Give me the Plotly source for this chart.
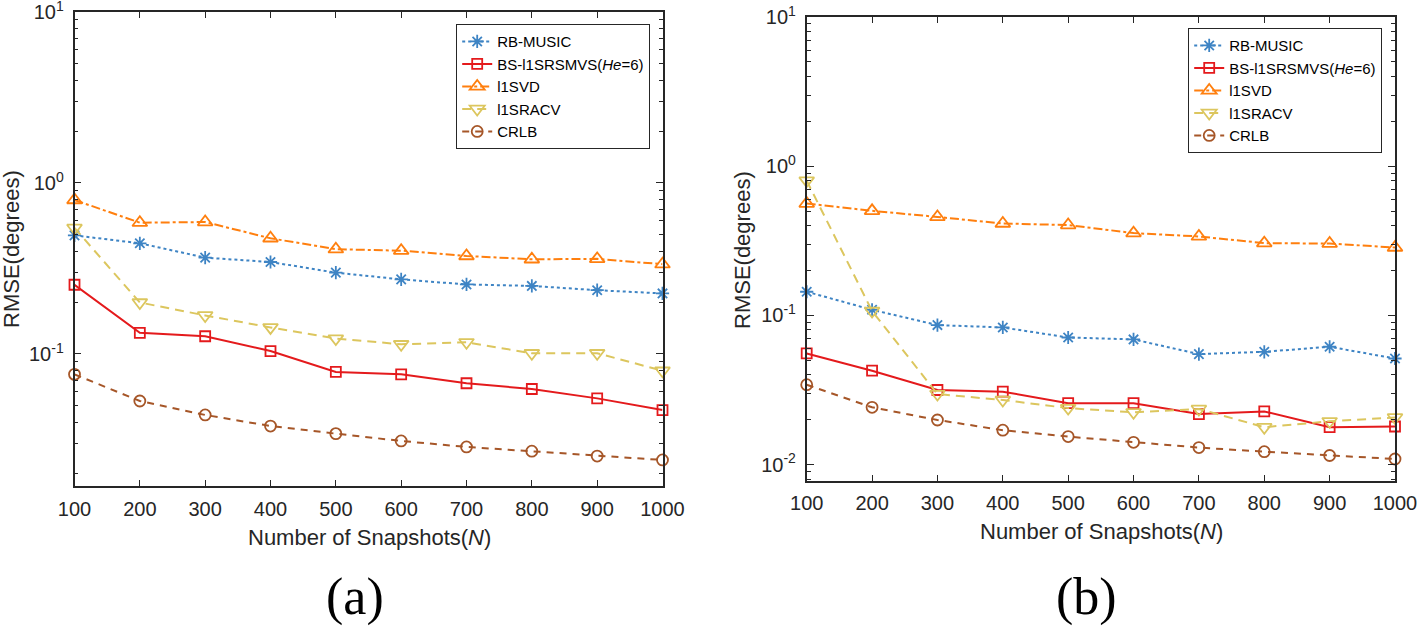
import plotly.graph_objects as go
import math

# ---------------- data ----------------
snapshots = [100, 200, 300, 400, 500, 600, 700, 800, 900, 1000]
series_names = ["RB-MUSIC", "BS-l1SRSMVS(<i>He</i>=6)", "l1SVD", "l1SRACV", "CRLB"]

# panel (a)
a_rb_music = [0.494, 0.444, 0.366, 0.345, 0.299, 0.273, 0.255, 0.250, 0.236, 0.226]
a_bs_l1srsmvs = [0.254, 0.133, 0.127, 0.104, 0.0785, 0.076, 0.0674, 0.0624, 0.055, 0.047]
a_l1svd = [0.795, 0.586, 0.591, 0.475, 0.410, 0.402, 0.374, 0.358, 0.360, 0.335]
a_l1sracv = [0.546, 0.200, 0.168, 0.143, 0.123, 0.114, 0.117, 0.101, 0.101, 0.0798]
a_crlb = [0.076, 0.0531, 0.044, 0.0379, 0.0342, 0.031, 0.0286, 0.027, 0.0253, 0.024]

# panel (b)
b_rb_music = [0.144, 0.109, 0.0861, 0.083, 0.0711, 0.069, 0.055, 0.057, 0.0616, 0.0514]
b_bs_l1srsmvs = [0.0556, 0.0426, 0.0316, 0.0308, 0.0258, 0.0258, 0.0218, 0.0227, 0.0178, 0.018]
b_l1svd = [0.562, 0.502, 0.457, 0.413, 0.403, 0.356, 0.338, 0.305, 0.303, 0.285]
b_l1sracv = [0.80, 0.107, 0.0297, 0.0271, 0.0239, 0.0224, 0.0236, 0.0178, 0.0195, 0.0207]
b_crlb = [0.0343, 0.0242, 0.0199, 0.017, 0.0154, 0.0141, 0.013, 0.0122, 0.0115, 0.0109]

x_ticks = [100, 200, 300, 400, 500, 600, 700, 800, 900, 1000]
y_major_a = [0.1, 1, 10]
y_major_b = [0.01, 0.1, 1, 10]
y_major_text = {0.01: "10<sup>-2</sup>", 0.1: "10<sup>-1</sup>", 1: "10<sup>0</sup>", 10: "10<sup>1</sup>"}

# ---------------- styles ----------------
W, H = 1418, 630
colors = ["#3E84C4", "#E41A1C", "#FF7F0E", "#DCC65E", "#A65628"]
symbols = ["asterisk-open", "square-open", "triangle-up-open", "triangle-down-open", "circle-open"]
msizes = [11, 10, 13, 13, 11]
dashes = ["dot", "solid", "dashdot", "9px,6px", "7px,6px"]
AX = "#262626"
FONT = "Liberation Sans"

fig = go.Figure()

panels = [
    ("x", "y", "legend", [a_rb_music, a_bs_l1srsmvs, a_l1svd, a_l1sracv, a_crlb]),
    ("x2", "y2", "legend2", [b_rb_music, b_bs_l1srsmvs, b_l1svd, b_l1sracv, b_crlb]),
]
for xa, ya, leg, data in panels:
    for i, vals in enumerate(data):
        fig.add_trace(go.Scatter(
            x=snapshots, y=vals, xaxis=xa, yaxis=ya, legend=leg,
            name=series_names[i], mode="lines+markers", cliponaxis=False,
            line=dict(color=colors[i], width=2, dash=dashes[i]),
            marker=dict(symbol=symbols[i], size=msizes[i], color=colors[i],
                        line=dict(color=colors[i], width=1.8)),
        ))


def px_dom_x(l, r):
    return [l / W, r / W]


def px_dom_y(t, b):
    return [1 - b / H, 1 - t / H]


def minor_vals(lo, hi):
    out = []
    for e in range(-3, 2):
        for m in range(2, 10):
            v = m * 10 ** e
            if lo <= v <= hi:
                out.append(v)
    return out


def xaxis_cfg(dom, anchor):
    return dict(domain=dom, anchor=anchor, range=[100, 1000], tickmode="array",
                tickvals=x_ticks, ticktext=[str(t) for t in x_ticks], automargin=False,
                ticks="inside", ticklen=6, tickwidth=1.2, tickcolor=AX,
                showline=True, linecolor=AX, linewidth=1.6, mirror="ticks",
                showgrid=False, zeroline=False, ticklabelstandoff=4,
                ticklabeloverflow="allow",
                tickfont=dict(family=FONT, size=20, color=AX))


def yaxis_cfg(dom, anchor, lo, hi, majors):
    return dict(domain=dom, anchor=anchor, type="log", automargin=False,
                range=[math.log10(lo), math.log10(hi)], tickmode="array",
                tickvals=majors, ticktext=[y_major_text[v] for v in majors],
                ticks="inside", ticklen=7, tickwidth=1.2, tickcolor=AX,
                minor=dict(tickmode="array", tickvals=minor_vals(lo, hi), ticks="inside",
                           ticklen=4, tickwidth=1.2, tickcolor=AX, showgrid=False),
                showline=True, linecolor=AX, linewidth=1.6, mirror="ticks",
                showgrid=False, zeroline=False, ticklabelstandoff=5,
                ticklabeloverflow="allow",
                tickfont=dict(family=FONT, size=20, color=AX))


fig.update_layout(
    width=W, height=H, margin=dict(l=0, r=0, t=0, b=0, autoexpand=False),
    paper_bgcolor="white", plot_bgcolor="white",
    xaxis=xaxis_cfg(px_dom_x(74.5, 662.5), "y"),
    yaxis=yaxis_cfg(px_dom_y(12, 486), "x", 0.0169, 10, y_major_a),
    xaxis2=xaxis_cfg(px_dom_x(806.7, 1395), "y2"),
    yaxis2=yaxis_cfg(px_dom_y(17, 480.5), "x2", 0.00782, 10, y_major_b),
    legend=dict(x=650 / W, y=1 - 24 / H, xanchor="right", yanchor="top",
                bgcolor="white", bordercolor=AX, borderwidth=1.2,
                font=dict(family=FONT, size=15, color="black"), tracegroupgap=0),
    legend2=dict(x=1382 / W, y=1 - 28 / H, xanchor="right", yanchor="top",
                 bgcolor="white", bordercolor=AX, borderwidth=1.2,
                 font=dict(family=FONT, size=15, color="black"), tracegroupgap=0),
    showlegend=True,
)

ann = []
# y-axis titles
ann.append(dict(text="RMSE(degrees)", x=12 / W, y=1 - 249 / H, xref="paper", yref="paper",
                textangle=-90, showarrow=False, xanchor="center", yanchor="middle",
                font=dict(family=FONT, size=22, color=AX)))
ann.append(dict(text="RMSE(degrees)", x=743 / W, y=1 - 250 / H, xref="paper", yref="paper",
                textangle=-90, showarrow=False, xanchor="center", yanchor="middle",
                font=dict(family=FONT, size=22, color=AX)))
# x-axis titles
ann.append(dict(text="Number of Snapshots(<i>N</i>)", x=369 / W, y=1 - 537 / H, xref="paper",
                yref="paper", showarrow=False, xanchor="center", yanchor="middle",
                font=dict(family=FONT, size=22, color=AX)))
ann.append(dict(text="Number of Snapshots(<i>N</i>)", x=1101 / W, y=1 - 531 / H, xref="paper",
                yref="paper", showarrow=False, xanchor="center", yanchor="middle",
                font=dict(family=FONT, size=22, color=AX)))
# panel labels
ann.append(dict(text="(a)", x=355 / W, y=1 - 597 / H, xref="paper", yref="paper",
                showarrow=False, xanchor="center", yanchor="middle",
                font=dict(family="Liberation Serif", size=52, color="black")))
ann.append(dict(text="(b)", x=1086 / W, y=1 - 597 / H, xref="paper", yref="paper",
                showarrow=False, xanchor="center", yanchor="middle",
                font=dict(family="Liberation Serif", size=52, color="black")))
fig.update_layout(annotations=ann)

# remove the default 8px page margin so the figure fills the window exactly
fig.write_html("out.html", config={"displayModeBar": False},
               post_script="document.body.style.margin='0px';")
